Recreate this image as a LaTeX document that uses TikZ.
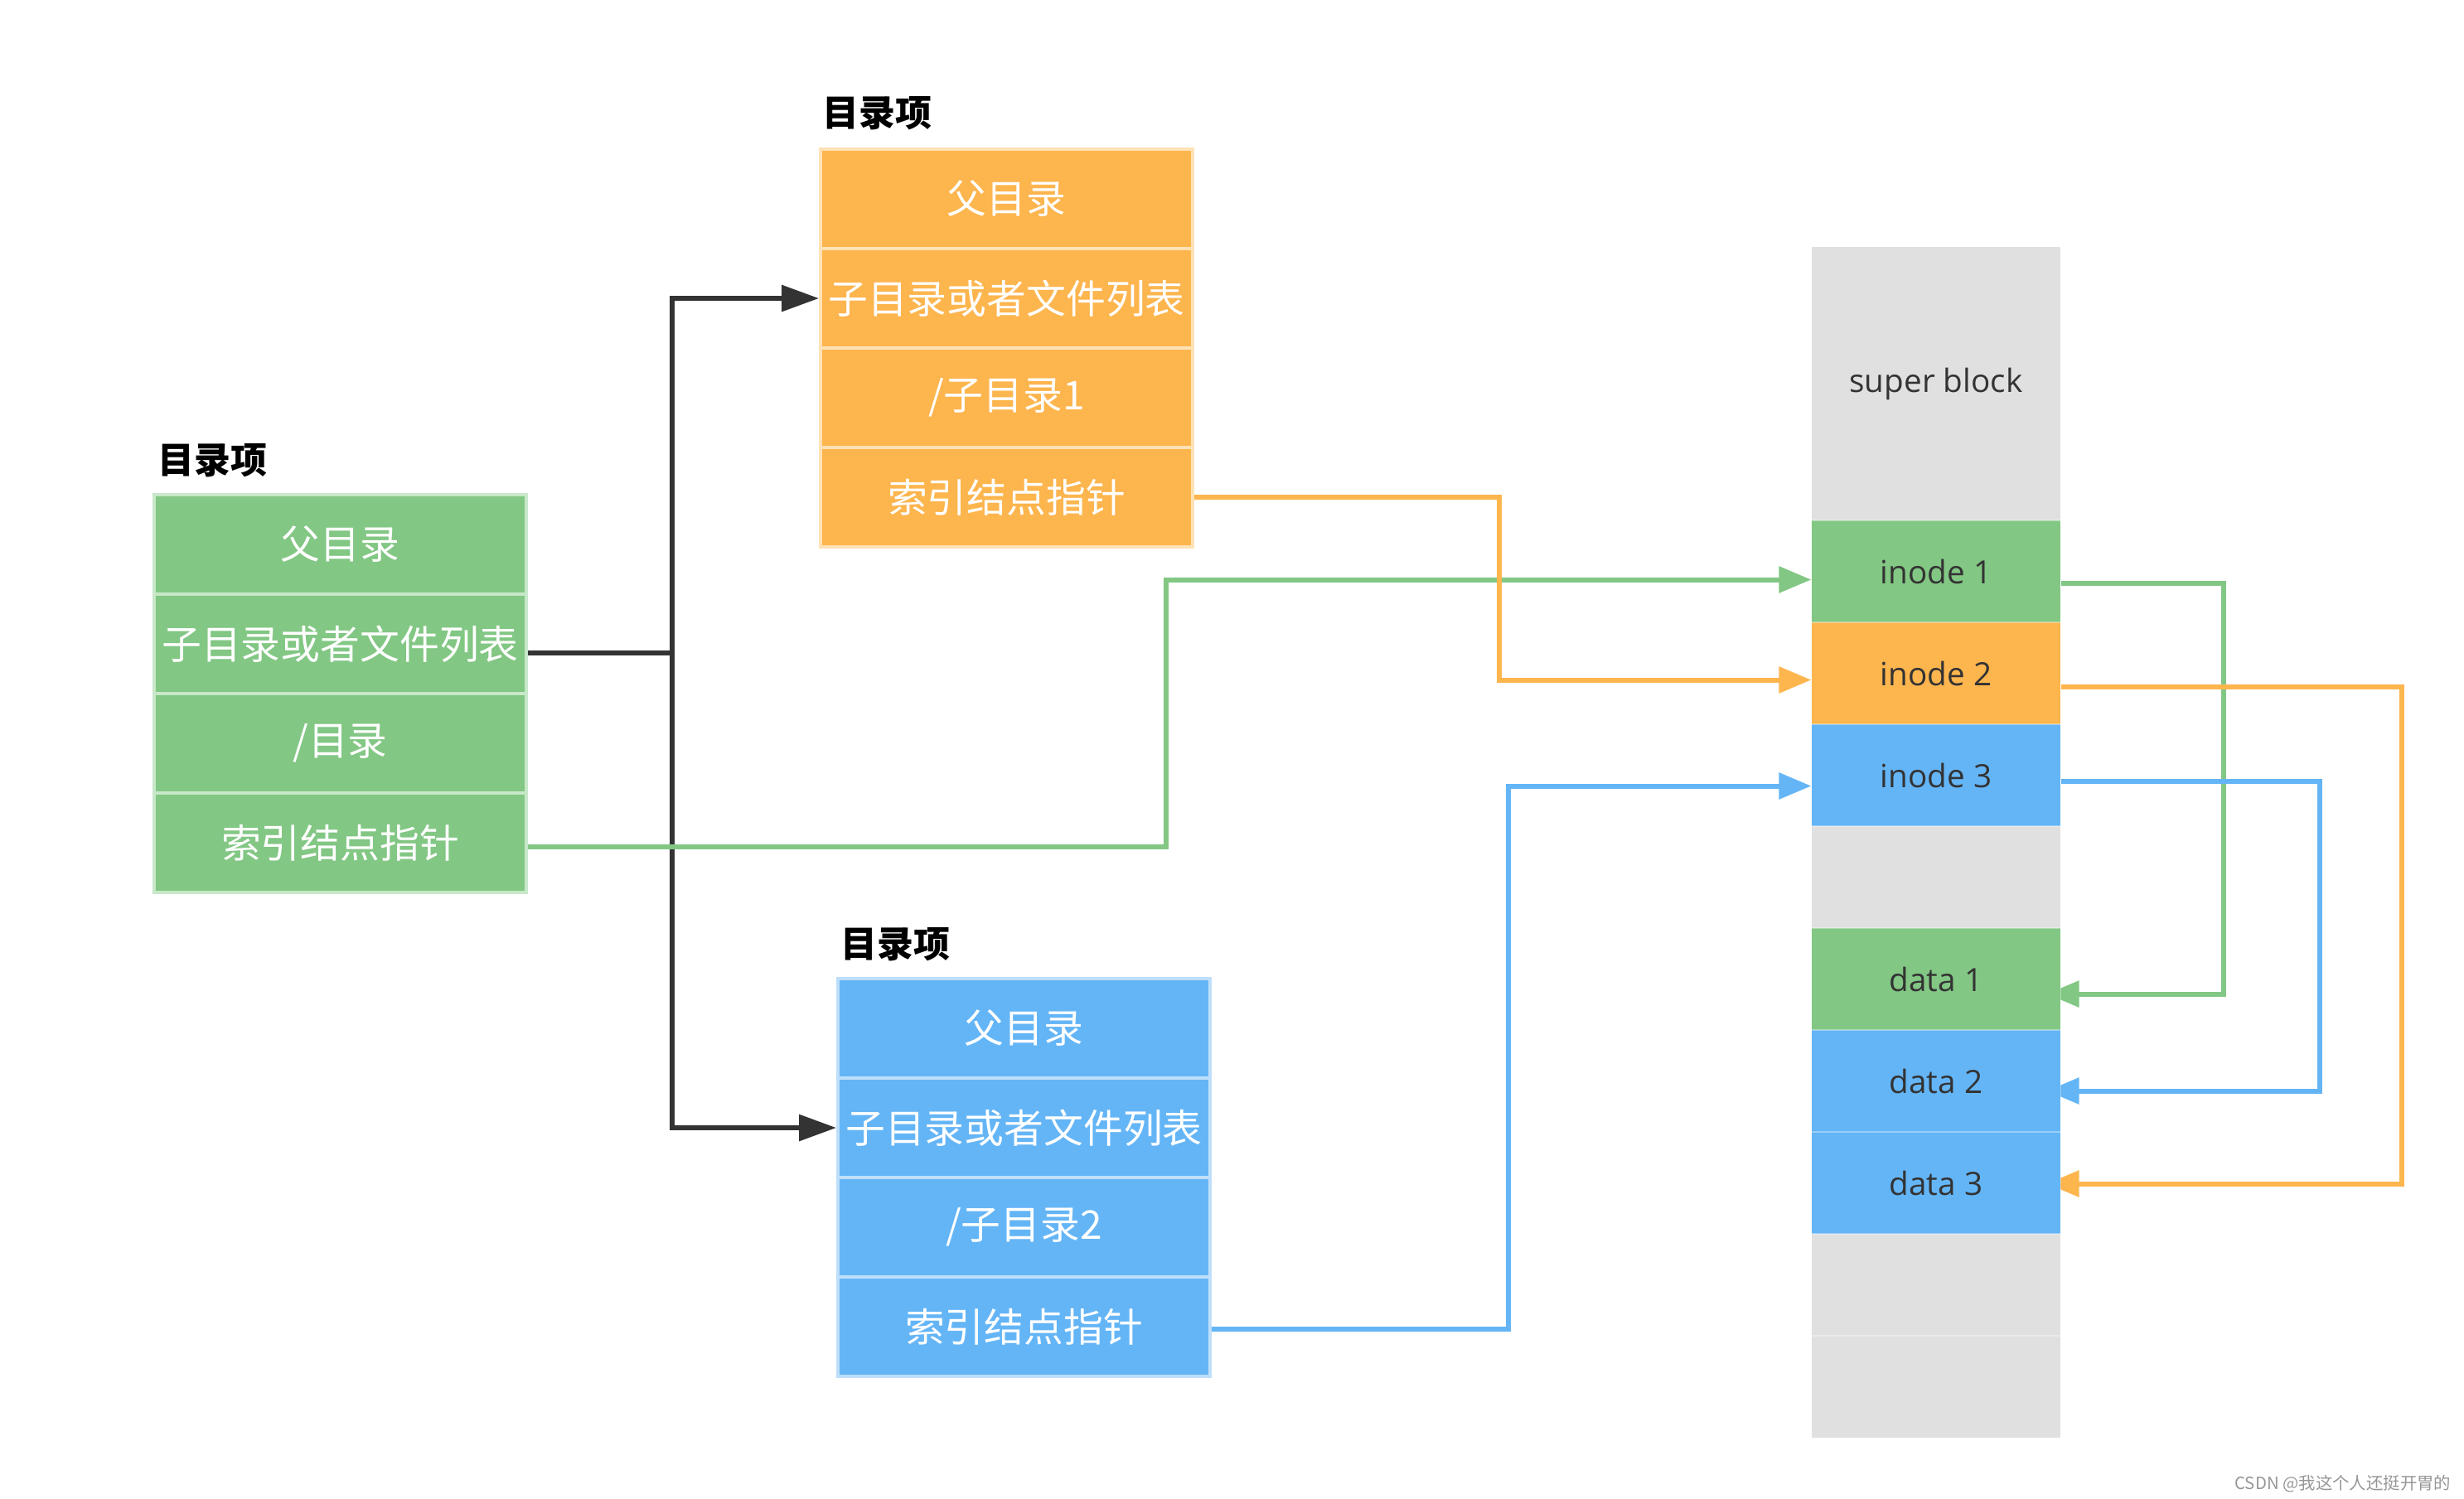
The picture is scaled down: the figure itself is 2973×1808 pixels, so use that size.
\documentclass[tikz,border=0pt]{standalone}
\usepackage{fontspec}
\setmainfont{Open Sans}
\newfontfamily\cjk{Noto Sans CJK SC}
\usepackage{tikz}
\usetikzlibrary{arrows.meta,calc,backgrounds}
\definecolor{grnfill}{RGB}{130,199,132}
\definecolor{grnedge}{RGB}{200,232,201}
\definecolor{orgfill}{RGB}{253,181,78}
\definecolor{orgedge}{RGB}{255,226,180}
\definecolor{blufill}{RGB}{100,181,246}
\definecolor{bluedge}{RGB}{190,223,251}
\definecolor{diskgray}{RGB}{224,224,224}
\definecolor{txtdark}{RGB}{51,51,51}
\definecolor{wmgray}{RGB}{150,150,150}

\begin{document}
\begin{tikzpicture}[x=0.01cm,y=-0.01cm,
  cell/.style={draw,line width=1pt,minimum width=4.49cm,minimum height=1.2cm,inner sep=0pt,
    text=white,font=\cjk\fontsize{13.6}{16}\selectfont},
  gcell/.style={cell,fill=grnfill,draw=grnedge},
  ocell/.style={cell,fill=orgfill,draw=orgedge},
  bcell/.style={cell,fill=blufill,draw=bluedge},
  title/.style={anchor=west,inner sep=0pt,font=\cjk\bfseries\fontsize{12.5}{15}\selectfont},
  disk/.style={fill=diskgray,draw=white,draw opacity=0.35,line width=0.3pt,minimum width=3cm,
    minimum height=1.23cm,inner sep=0pt,text=txtdark,font=\fontsize{11}{13}\selectfont},
  blk/.style={draw=txtdark,line width=1.7pt,-{Triangle[length=0.45cm,width=0.31cm]}},
  link/.style={line width=1.7pt,-{Triangle[length=0.39cm,width=0.31cm]}}]
\useasboundingbox (0,0) rectangle (2973,1808);
\node[title] (tg) at (190,556) {目录项};
\node[gcell] (g1) at (410.5,657) {父目录};
\node[gcell] (g2) at (410.5,777) {子目录或者文件列表};
\node[gcell] (g3) at (410.5,897) {/目录};
\node[gcell] (g4) at (410.5,1017) {索引结点指针};
\node[title] (to) at (992,137) {目录项};
\node[ocell] (o1) at (1214.5,240) {父目录};
\node[ocell] (o2) at (1214.5,360) {子目录或者文件列表};
\node[ocell] (o3) at (1214.5,480) {/子目录1};
\node[ocell] (o4) at (1214.5,600) {索引结点指针};
\node[title] (tb) at (1014,1140) {目录项};
\node[bcell] (b1) at (1235.5,1241) {父目录};
\node[bcell] (b2) at (1235.5,1361) {子目录或者文件列表};
\node[bcell] (b3) at (1235.5,1481) {/子目录2};
\node[bcell] (b4) at (1235.5,1601) {索引结点指针};
\node[disk,minimum height=3.3cm] (sb) at (2336,463) {super block};
\node[disk,fill=grnfill] (i1) at (2336,689.5) {inode 1};
\node[disk,fill=orgfill] (i2) at (2336,812.5) {inode 2};
\node[disk,fill=blufill] (i3) at (2336,935.5) {inode 3};
\node[disk] (e1) at (2336,1058.5) {};
\node[disk,fill=grnfill] (d1) at (2336,1181.5) {data 1};
\node[disk,fill=blufill] (d2) at (2336,1304.5) {data 2};
\node[disk,fill=blufill] (d3) at (2336,1427.5) {data 3};
\node[disk] (e2) at (2336,1550.5) {};
\node[disk] (e3) at (2336,1673.5) {};
\node[anchor=east,inner sep=0pt,text=wmgray,font=\cjk\fontsize{5.8}{7}\selectfont] (wm) at (2958,1791) {CSDN @我这个人还挺开胃的};
\coordinate (jn) at (811,788);
\draw[txtdark,line width=1.7pt] ($(g2.east)+(0,11)$) -- (jn);
\draw[blk] (jn) |- (o2.west);
\draw[blk] (jn) |- (b2.west);
\draw[link,grnfill] ($(g4.east)+(0,5)$) -- ++(770,0) |- ($(i1.west)+(0,10)$);
\draw[link,orgfill] (o4.east) -- ++(368,0) |- ($(i2.west)+(0,8)$);
\draw[link,blufill] ($(b4.east)+(0,3)$) -- ++(358,0) |- ($(i3.west)+(0,13)$);
\begin{pgfonlayer}{background}
\draw[link,grnfill] ($(i1.east)+(0,14)$) -- ++(196,0) |- ($(d1.east)+(-17,18)$);
\draw[link,orgfill] ($(i2.east)+(0,16)$) -- ++(411,0) |- ($(d3.east)+(-17,1)$);
\draw[link,blufill] ($(i3.east)+(0,7)$) -- ++(312,0) |- ($(d2.east)+(-17,12)$);
\end{pgfonlayer}
\end{tikzpicture}
\end{document}
